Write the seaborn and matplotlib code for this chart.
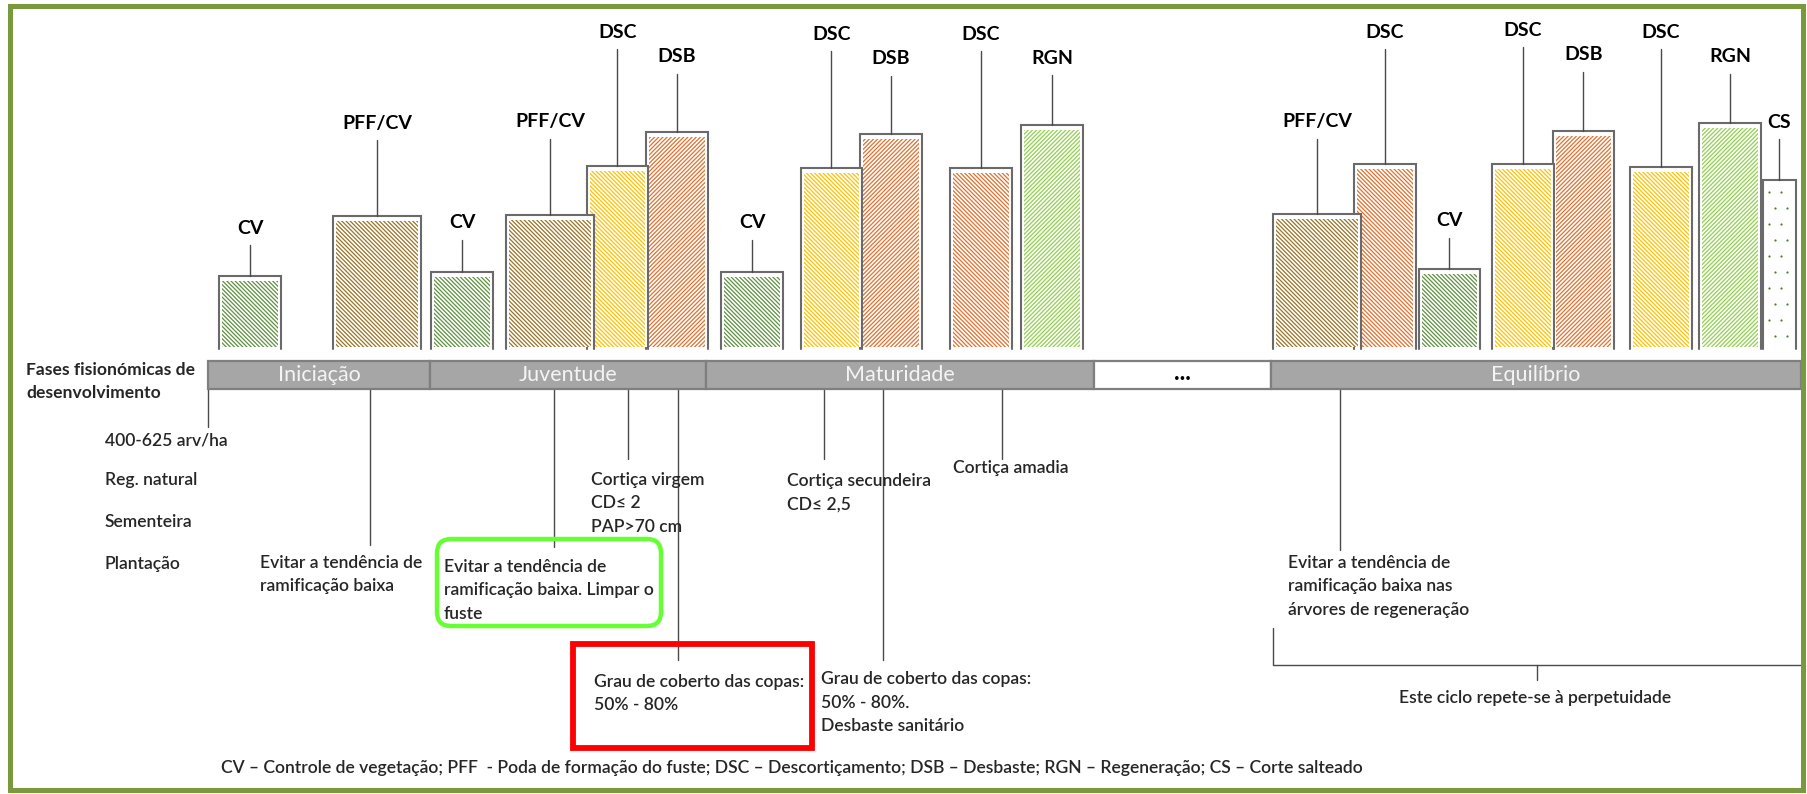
import matplotlib
matplotlib.use("Agg")
import numpy as np
import matplotlib.pyplot as plt
import seaborn as sns
from matplotlib.patches import FancyBboxPatch, Rectangle

# silvicultural operations drawn as bars above the phase strip
bar_labels = ["CV", "PFF/CV", "CV", "PFF/CV", "DSC", "DSB", "CV", "DSC", "DSB", "DSC", "RGN",
              "PFF/CV", "DSC", "CV", "DSC", "DSB", "DSC", "RGN", "CS"]
bar_left = [219, 333, 431, 506, 587, 646, 721, 801, 860, 950, 1021,
            1273, 1354, 1419, 1492, 1553, 1630, 1699, 1763]
bar_width = [62, 88, 62, 88, 61, 62, 62, 61, 62, 62, 62,
             88, 62, 61, 62, 61, 62, 62, 33]
bar_height = [71, 131, 75, 132, 181, 215, 75, 179, 213, 179, 222,
              133, 183, 78, 183, 216, 180, 224, 167]
label_level = [228, 123, 223, 122, 32, 57, 223, 34, 59, 34, 58,
               122, 32, 221, 30, 55, 32, 57, 122]
bar_tone = ["cv", "pff", "cv", "pff", "dsc", "dsb", "cv", "dsc", "dsb", "dsc_o", "rgn",
            "pff", "dsc_o", "cv", "dsc", "dsb", "dsc", "rgn", "cs"]

# physiognomic phases
phase_names = ["Iniciação", "Juventude", "Maturidade", "•••", "Equilíbrio"]
phase_start = [208, 430, 706, 1094, 1271]
phase_end = [430, 706, 1094, 1271, 1801]

# notes below the strip: (x, first line y, lines)
notes = [
    (105, 441, ["400-625 arv/ha"]),
    (105, 480, ["Reg. natural"]),
    (105, 522, ["Sementeira"]),
    (105, 564, ["Plantação"]),
    (260, 563, ["Evitar a tendência de", "ramificação baixa"]),
    (444, 567, ["Evitar a tendência de", "ramificação baixa. Limpar o", "fuste"]),
    (591, 480, ["Cortiça virgem", "CD≤ 2", "PAP>70 cm"]),
    (594, 682, ["Grau de coberto das copas:", "50% - 80%"]),
    (787, 481, ["Cortiça secundeira", "CD≤ 2,5"]),
    (821, 679, ["Grau de coberto das copas:", "50% - 80%.", "Desbaste sanitário"]),
    (953, 468, ["Cortiça amadia"]),
    (1288, 563, ["Evitar a tendência de", "ramificação baixa nas", "árvores de regeneração"]),
]
# leaders hanging from the strip: x and lower end
leader_x = [208, 370, 554, 628, 678, 824, 883, 1002, 1340]
leader_end = [427, 545, 547, 459, 660, 459, 660, 459, 550]

legend_text = ("CV – Controle de vegetação; PFF  - Poda de formação do fuste; DSC – Descortiçamento; "
               "DSB – Desbaste; RGN – Regeneração; CS – Corte salteado")

TONES = {
    "cv": ("#5F9142", "\\" * 8),
    "pff": ("#9A7428", "\\" * 8),
    "dsc": ("#FFC000", "\\" * 8),
    "dsc_o": ("#E2702E", "\\" * 8),
    "dsb": ("#E2702E", "/" * 8),
    "rgn": ("#92D050", "/" * 8),
    "cs": ("#4F7A28", None),
}
GROUND = 347
STRIP_TOP, STRIP_BOT = 361, 389
LINE = "#4A4A4A"
BODY = dict(fontsize=12.6, fontweight="semibold")


def draw_bars(ax):
    n = len(bar_labels)
    for i in range(n):
        x, w, h = bar_left[i], bar_width[i], bar_height[i]
        col, hatch = TONES[bar_tone[i]]
        z = 100 - 3 * i  # earlier bars sit in front
        ax.bar(x, -h, width=w, bottom=GROUND, align="edge", color="white", linewidth=0, zorder=z)
        top = GROUND - h
        if hatch:
            ax.bar(x + 3, -(h - 5), width=w - 6, bottom=GROUND, align="edge", facecolor="white",
                   edgecolor=col, hatch=hatch, linewidth=0, zorder=z + 0.5)
        else:
            # sparse dot texture
            gx, gy = np.meshgrid(np.arange(x + 6, x + w - 3, 12), np.arange(top + 12, GROUND, 16))
            gx[1::2] += 6
            ax.scatter(gx.ravel(), gy.ravel(), s=2.5, color=col, linewidths=0, zorder=z + 0.5)
        ax.plot([x, x, x + w, x + w], [GROUND + 2, top, top, GROUND + 2],
                color="#6A6A6A", lw=1.5, zorder=z + 1, solid_joinstyle="miter")
        cx = x + w / 2
        ax.plot([cx, cx], [label_level[i] + 17, top], color=LINE, lw=1.0, zorder=z + 1)
        ax.text(cx, label_level[i], bar_labels[i], ha="center", va="center",
                fontsize=14, fontweight="bold", color="black")


def draw_strip(ax):
    for name, a, b in zip(phase_names, phase_start, phase_end):
        dots = name == "•••"
        ax.barh((STRIP_TOP + STRIP_BOT) / 2, b - a, left=a, height=STRIP_BOT - STRIP_TOP,
                color="white" if dots else "#A6A6A6", edgecolor="#7F7F7F", linewidth=1.6, zorder=5)
        if dots:
            ax.text((a + b) / 2, 378, name, ha="center", va="center", fontsize=7,
                    color="black", zorder=6)
        else:
            ax.text((a + b) / 2, 375, name, ha="center", va="center", fontsize=15.5,
                    color="#F4F4F4", zorder=6)
    ax.text(26, 370, "Fases fisionómicas de", ha="left", va="center", fontsize=12.6,
            fontweight="bold")
    ax.text(26, 393, "desenvolvimento", ha="left", va="center", fontsize=12.6,
            fontweight="bold")


def draw_notes(ax):
    for x, y0 in zip(leader_x, leader_end):
        ax.plot([x, x], [STRIP_BOT, y0], color=LINE, lw=1.0, zorder=3)
    for x, y, lines in notes:
        for k, line in enumerate(lines):
            ax.text(x, y + 23.5 * k, line, ha="left", va="center", zorder=4, **BODY)
    # highlight frames
    ax.add_patch(FancyBboxPatch((437, 539), 224, 87, boxstyle="round,pad=0,rounding_size=14",
                                fill=False, edgecolor="#66FF33", lw=3.2, zorder=4))
    ax.add_patch(Rectangle((573, 644), 239, 104, fill=False, edgecolor="#FF0000", lw=4.2, zorder=4))
    # bracket for the repeating cycle
    ax.plot([1273, 1273, 1803, 1803], [628, 665, 665, 628], color=LINE, lw=1.0)
    ax.plot([1537, 1537], [665, 680], color=LINE, lw=1.0)
    ax.text(1535, 698, "Este ciclo repete-se à perpetuidade", ha="center", va="center", **BODY)
    ax.text(221, 768, legend_text, ha="left", va="center", **BODY)


def main():
    sns.set_theme(style="white")
    plt.rcParams["font.family"] = ["Lato", "DejaVu Sans"]
    plt.rcParams["hatch.linewidth"] = 0.9
    fig = plt.figure(figsize=(18.08, 7.94), dpi=100)
    ax = fig.add_axes([0, 0, 1, 1])
    ax.set_xlim(0, 1808)
    ax.set_ylim(794, 0)
    ax.set_axis_off()
    draw_bars(ax)
    draw_strip(ax)
    draw_notes(ax)
    ax.add_patch(Rectangle((10.5, 5.5), 1792.5, 784.5, fill=False, edgecolor="#789A3D",
                           lw=3.6, zorder=200))
    fig.savefig("out.png", dpi=100)


if __name__ == "__main__":
    main()
